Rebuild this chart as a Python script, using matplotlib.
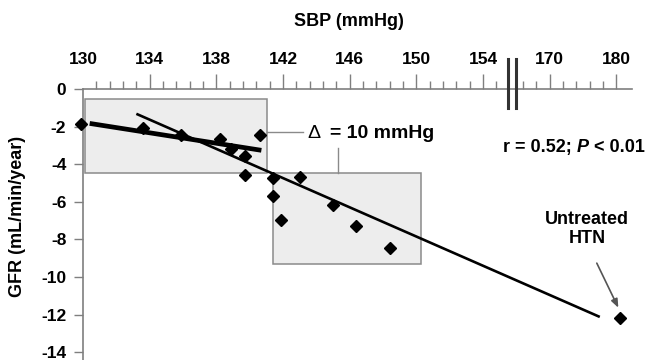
import numpy as np
import matplotlib
matplotlib.use("Agg")
import matplotlib.pyplot as plt
from matplotlib.patches import Rectangle
from matplotlib.ticker import FixedLocator, FixedFormatter

plt.rcParams['font.family'] = ['Liberation Sans', 'DejaVu Sans']
plt.rcParams['axes.unicode_minus'] = False

# ---------------- data ----------------
sbp = [129.9, 133.6, 135.9, 138.2, 138.9, 139.7, 140.6, 139.7, 141.4, 141.4,
       143.0, 141.9, 145.0, 146.4, 148.4, 180.5]
gfr = [-1.86, -2.07, -2.47, -2.67, -3.21, -3.56, -2.47, -4.56, -4.74, -5.70,
       -4.70, -6.95, -6.19, -7.30, -8.47, -12.16]

thick_x = [130.4, 140.7]
thick_y = [-1.83, -3.26]
reg_x = [133.2, 177.5]
reg_y = [-1.32, -12.12]

box1 = (130.1, 141.06, -4.47, -0.54)   # x0, x1, y0, y1
box2 = (141.38, 150.26, -9.30, -4.44)

major_x = [130, 134, 138, 142, 146, 150, 154, 170, 180]
major_x_labels = ['130', '134', '138', '142', '146', '150', '154', '170', '180']
minor_x = [130 + 0.8 * k for k in range(1, 32) if k % 5 != 0] + [166, 168, 172, 174, 176, 178]
yticks = [0, -2, -4, -6, -8, -10, -12, -14]
ytick_labels = ['0', '-2', '-4', '-6', '-8', '-10', '-12', '-14']

# ---------------- broken x scale ----------------
B0, B1 = 155.5, 165.0


def fwd(x):
    x = np.asarray(x, float)
    return np.where(x <= B0, x - 130.0,
                    np.where(x >= B1, 28.0 + (x - 170.0) * 0.4,
                             25.5 + (x - B0) * (0.5 / (B1 - B0))))


def inv(u):
    u = np.asarray(u, float)
    return np.where(u <= 25.5, u + 130.0,
                    np.where(u >= 26.0, 170.0 + (u - 28.0) / 0.4,
                             B0 + (u - 25.5) * ((B1 - B0) / 0.5)))


fig = plt.figure(figsize=(6.48, 3.6), dpi=100)
ax = fig.add_axes([83 / 648, 0, 549 / 648, 271 / 360])
ax.set_xscale('function', functions=(fwd, inv))
ax.set_xlim(130, 182.33)
ax.set_ylim(-14.41, 0)

gray = '#7f7f7f'
for s in ['right', 'bottom']:
    ax.spines[s].set_visible(False)
for s in ['left', 'top']:
    ax.spines[s].set_color(gray)
    ax.spines[s].set_linewidth(1.2)

ax.xaxis.tick_top()
ax.xaxis.set_major_locator(FixedLocator(major_x))
ax.xaxis.set_major_formatter(FixedFormatter(major_x_labels))
ax.xaxis.set_minor_locator(FixedLocator(minor_x))
ax.xaxis.set_minor_formatter(FixedFormatter([]))
ax.tick_params(axis='x', which='major', direction='out', length=10.5, width=1.0,
               color=gray, pad=5, labelsize=12.5)
ax.tick_params(axis='x', which='minor', direction='out', length=6, width=1.0, color=gray)
ax.xaxis.get_major_ticks()[0].tick2line.set_visible(False)

ax.yaxis.set_major_locator(FixedLocator(yticks))
ax.yaxis.set_major_formatter(FixedFormatter(ytick_labels))
ax.tick_params(axis='y', direction='out', length=6.5, width=1.0, color=gray,
               pad=5.5, labelsize=12.5)
for lab in ax.get_xticklabels() + ax.get_yticklabels():
    lab.set_fontweight('bold')

ax.set_ylabel('GFR (mL/min/year)', fontsize=13, fontweight='bold')
ax.yaxis.set_label_coords(-0.104, 0.528)

fig.text(349 / 648, 1 - 22 / 360, 'SBP (mmHg)', ha='center', va='center',
         fontsize=13, fontweight='bold')

# boxes
for (x0, x1, y0, y1) in [box1, box2]:
    ax.add_patch(Rectangle((x0, y0), x1 - x0, y1 - y0, facecolor='#ededed',
                           edgecolor='#8a8a8a', linewidth=1.1, zorder=1))

# connector lines
ax.plot([141.06, 143.2], [-2.3, -2.3], color='#8a8a8a', lw=1.0, zorder=2)
ax.plot([145.3, 145.3], [-3.12, -4.44], color='#8a8a8a', lw=1.0, zorder=2)

# regression lines
ax.plot(thick_x, thick_y, color='black', lw=3.4, solid_capstyle='butt', zorder=3)
ax.plot(reg_x, reg_y, color='black', lw=1.9, solid_capstyle='butt', zorder=3)

# points
ax.plot(sbp, gfr, linestyle='none', marker='D', markersize=5.8, color='black',
        zorder=4, clip_on=False)

# axis break marks
for xb in [B0, B1]:
    ax.plot([xb, xb], [1.58, -1.0], color='#333333', lw=2.2, clip_on=False, zorder=5)

# texts
ax.text(143.45, -2.37, 'Δ', ha='left', va='center', fontsize=14)
ax.text(144.8, -2.37, '= 10 mmHg', ha='left', va='center', fontsize=14, fontweight='bold')

t1 = ax.text(155.17, -3.12, 'r = 0.52;', ha='left', va='center', fontsize=13,
             fontweight='bold')
t2 = ax.annotate('P', xy=(1, 0), xycoords=t1, xytext=(4, 0), textcoords='offset points',
                 ha='left', va='bottom', fontsize=13, fontweight='bold', style='italic')
ax.annotate('< 0.01', xy=(1, 0), xycoords=t2, xytext=(4, 0), textcoords='offset points',
            ha='left', va='bottom', fontsize=13, fontweight='bold')

ax.text(175.6, -7.45, 'Untreated\nHTN', ha='center', va='center', fontsize=13,
        fontweight='bold', multialignment='center', linespacing=1.2)
ax.annotate('', xy=(180.28, -11.63), xytext=(177.05, -9.26),
            arrowprops=dict(arrowstyle='-|>,head_length=0.5,head_width=0.2',
                            color='#555555', lw=1.2, shrinkA=0, shrinkB=0))

fig.savefig('out.png', dpi=100)
